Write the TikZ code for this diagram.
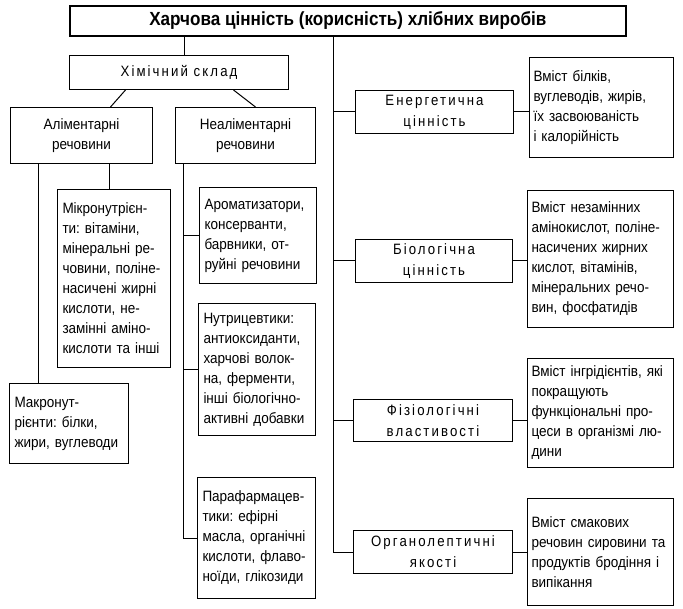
\documentclass[tikz,border=0pt]{standalone}
\usepackage{fontspec}
\setmainfont{Liberation Sans}[FakeStretch=0.9]
\newfontfamily\spacedfont{Liberation Sans}[FakeStretch=0.88, LetterSpace=14]
\newcommand{\bodyfont}{\frenchspacing\fontsize{15}{20}\selectfont}
\newcommand{\midfont}{\spacedfont\fontsize{15}{21}\selectfont}
\newcommand{\titlefont}{\frenchspacing\bfseries\fontsize{19}{22}\selectfont}
\begin{document}
\begin{tikzpicture}[x=1pt,y=-1pt,
  box/.style={draw, line width=1pt, inner xsep=5pt, inner ysep=0pt, anchor=north west, font=\bodyfont},
  lbox/.style={box, align=left},
  rbox/.style={box, align=left, inner xsep=4pt, text width=138pt, minimum width=146pt},
  cbox/.style={box, align=center},
  mbox/.style={box, align=center, font=\midfont},
  conn/.style={line width=1pt}]
\useasboundingbox (0,0) rectangle (683,609);
% title
\node[draw, line width=1.6pt, anchor=north west, minimum width=556pt, minimum height=30pt, inner sep=0pt, font=\titlefont] (title) at (69,5) {Харчова цінність (корисність) хлібних виробів};
% chemical composition
\node[mbox, minimum width=219pt, minimum height=34pt] (chem) at (69,55) {Хімічний склад};
\node[cbox, minimum width=142pt, minimum height=56pt] (alim) at (10,107) {Аліментарні\\речовини};
\node[cbox, minimum width=140pt, minimum height=56pt] (nealim) at (175,107) {Неаліментарні\\речовини};
\node[lbox, minimum width=113pt, minimum height=178pt, text width=103pt] (micro) at (57,189) {Мікронутрієн-\\ти: вітаміни,\\мінеральні ре-\\човини, поліне-\\насичені жирні\\кислоти, не-\\замінні аміно-\\кислоти та інші};
\node[lbox, minimum width=119pt, minimum height=80pt, text width=109pt] (macro) at (9,383) {Макронут-\\рієнти: білки,\\жири, вуглеводи};
\node[lbox, minimum width=117pt, minimum height=96pt, text width=107pt] (arom) at (199,187) {Ароматизатори,\\консерванти,\\барвники, от-\\руйні речовини};
\node[lbox, minimum width=117pt, minimum height=132pt, text width=107pt] (nutr) at (198,303) {Нутрицевтики:\\антиоксиданти,\\харчові волок-\\на, ферменти,\\інші біологічно-\\активні добавки};
\node[lbox, minimum width=118pt, minimum height=121pt, text width=108pt] (para) at (197,477) {Парафармацев-\\тики: ефірні\\масла, органічні\\кислоти, флаво-\\ноїди, глікозиди};
% middle column
\node[mbox, minimum width=158pt, minimum height=43pt] (energ) at (355,90) {Енергетична\\цінність};
\node[mbox, minimum width=157pt, minimum height=43pt] (bio) at (355,239) {Біологічна\\цінність};
\node[mbox, minimum width=159pt, minimum height=42pt] (phys) at (353,399) {Фізіологічні\\властивості};
\node[mbox, minimum width=159pt, minimum height=43pt] (org) at (353,530) {Органолептичні\\якості};
% right column
\node[rbox, text width=136pt, minimum width=144pt, minimum height=100pt] (r1) at (529,57) {Вміст білків,\\вуглеводів, жирів,\\їх засвоюваність\\і калорійність};
\node[rbox, minimum height=137pt] (r2) at (527,190) {Вміст незамінних\\амінокислот, поліне-\\насичених жирних\\кислот, вітамінів,\\мінеральних речо-\\вин, фосфатидів};
\node[rbox, minimum height=109pt] (r3) at (527,358) {Вміст інгрідієнтів, які\\покращують\\функціональні про-\\цеси в організмі лю-\\дини};
\node[rbox, minimum height=107pt] (r4) at (527,498) {Вміст смакових\\речовин сировини та\\продуктів бродіння і\\випікання};
% connectors
\draw[conn] ([xshift=5.5pt]chem.north) -- ([xshift=5.5pt]chem.north |- title.south);
\coordinate (t0) at ([xshift=264pt]title.south west);
\draw[conn] (t0) |- (org.west);
\draw[conn] (t0 |- energ.west) -- (energ.west);
\draw[conn] (t0 |- bio.west) -- (bio.west);
\draw[conn] (t0 |- phys.west) -- (phys.west);
\draw[conn] (energ.east) -- (energ.east -| r1.west);
\draw[conn] (bio.east) -- (bio.east -| r2.west);
\draw[conn] (phys.east) -- (phys.east -| r3.west);
\draw[conn] (org.east) -- (org.east -| r4.west);
\draw[conn] ([xshift=-53.5pt]chem.south) -- ([xshift=29pt]alim.north);
\draw[conn] ([xshift=54.5pt]chem.south) -- ([xshift=10pt]nealim.north);
\draw[conn] ([xshift=-30.5pt]macro.north) -- ([xshift=-30.5pt]macro.north |- alim.south);
\draw[conn] ([xshift=-4.5pt]micro.north) -- ([xshift=-4.5pt]micro.north |- alim.south);
\coordinate (nv) at ([xshift=-62pt]nealim.south);
\draw[conn] (nv) |- (para.west);
\draw[conn] (arom.west) -- (arom.west -| nv);
\draw[conn] (nutr.west) -- (nutr.west -| nv);
\end{tikzpicture}
\end{document}
